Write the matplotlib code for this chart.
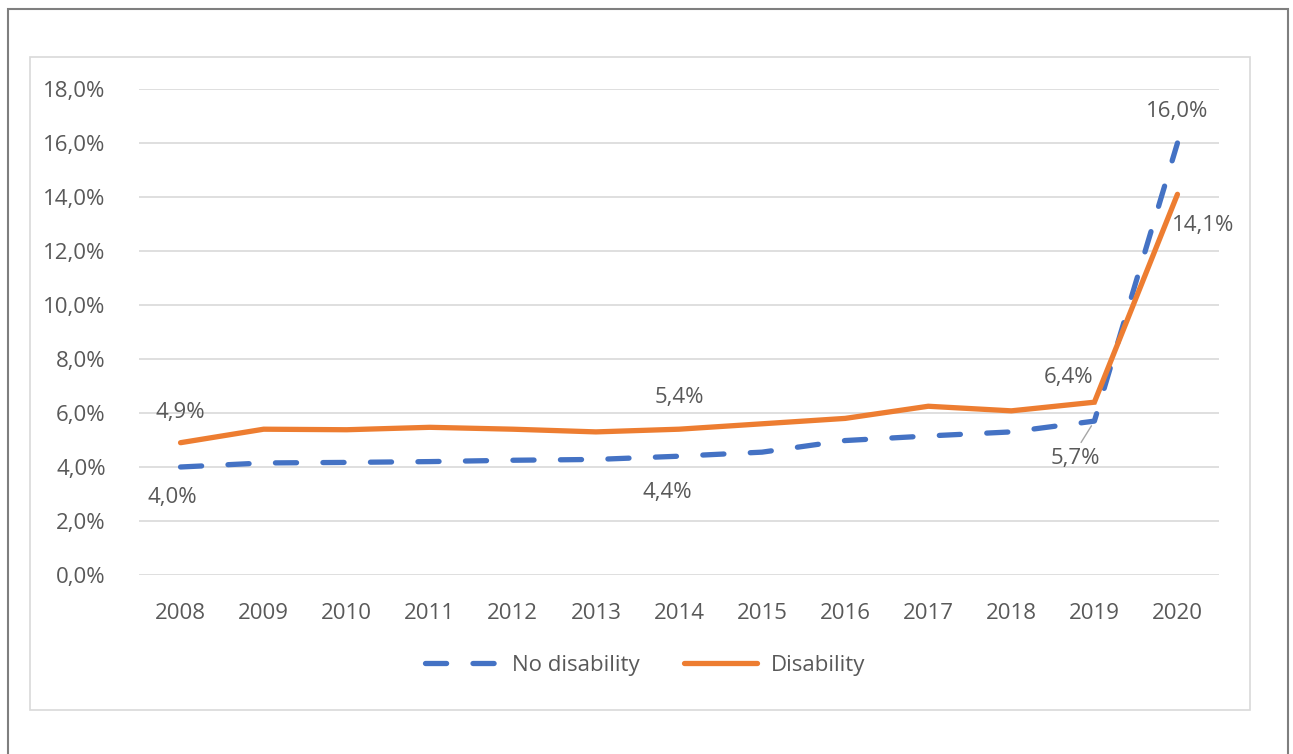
import matplotlib.pyplot as plt
from matplotlib.patches import Rectangle
from matplotlib.lines import Line2D

years = ['2008', '2009', '2010', '2011', '2012', '2013', '2014',
         '2015', '2016', '2017', '2018', '2019', '2020']
no_disability = [4.0, 4.15, 4.17, 4.2, 4.25, 4.28, 4.4, 4.55, 4.98, 5.15, 5.3, 5.7, 16.0]
disability = [4.9, 5.4, 5.38, 5.47, 5.4, 5.3, 5.4, 5.6, 5.8, 6.25, 6.08, 6.4, 14.1]
yticks = [0, 2, 4, 6, 8, 10, 12, 14, 16, 18]

BLUE = '#4472C4'
ORANGE = '#ED7D31'
TXT = '#595959'
W, H = 1293, 754
DASH = (4.0, 5.0)

plt.rcParams['font.family'] = ['Open Sans', 'DejaVu Sans']

fig = plt.figure(figsize=(W / 100, H / 100), dpi=100)

# frames around the chart
fig.add_artist(Rectangle((8 / W, -0.05), 1280 / W, (H - 9) / H + 0.05, transform=fig.transFigure,
                         fill=False, edgecolor='#7F7F7F', lw=1.5))
fig.add_artist(Rectangle((30 / W, (H - 710) / H), 1220 / W, 653 / H, transform=fig.transFigure,
                         fill=False, edgecolor='#D9D9D9', lw=1.2))

ax = fig.add_axes([139 / W, (H - 575) / H, 1080 / W, 486 / H])
x = list(range(len(years)))

ax.plot(x, no_disability, color=BLUE, lw=3.8, dashes=DASH, dash_capstyle='round',
        label='No disability', zorder=3)
ax.plot(x, disability, color=ORANGE, lw=3.8, solid_capstyle='round', solid_joinstyle='miter',
        label='Disability', zorder=4)

ax.set_xlim(-0.5, len(years) - 0.5)
ax.set_ylim(0, 18)
ax.set_yticks(yticks)
ax.set_yticklabels([f'{v:.1f}%'.replace('.', ',') for v in yticks])
ax.set_xticks(x)
ax.set_xticklabels(years)
ax.tick_params(length=0, labelsize=16, labelcolor=TXT)
ax.tick_params(axis='y', pad=24)
ax.tick_params(axis='x', pad=20)
ax.grid(axis='y', color='#D9D9D9', lw=1.2)
ax.set_axisbelow(True)
for s in ax.spines.values():
    s.set_visible(False)


def lbl(i, vals, dx, dy, **kw):
    txt = f'{vals[i]:.1f}%'.replace('.', ',')
    ax.annotate(txt, (x[i], vals[i]), xytext=(dx, dy), textcoords='offset pixels',
                ha='center', va='center', fontsize=16, color=TXT, **kw)


lbl(0, disability, 0, 30)
lbl(0, no_disability, -8, -30)
lbl(6, disability, 0, 32)
lbl(6, no_disability, -12, -36)
lbl(11, disability, -26, 25)
lbl(11, no_disability, -19, -37,
    arrowprops=dict(arrowstyle='-', color='#A6A6A6', lw=1, shrinkA=2, shrinkB=4,
                    relpos=(0.55, 1.0)))
lbl(12, no_disability, 0, 32)
lbl(12, disability, 26, -31)

handles = [Line2D([], [], color=BLUE, lw=3.8, dashes=DASH, dash_capstyle='round'),
           Line2D([], [], color=ORANGE, lw=3.8, solid_capstyle='round')]
leg = fig.legend(handles, ['No disability', 'Disability'], loc='center',
                 bbox_to_anchor=(645 / W, (H - 665) / H), ncol=2, frameon=False,
                 fontsize=16, handlelength=3.3, columnspacing=2.0, handletextpad=0.6)
for t in leg.get_texts():
    t.set_color(TXT)

fig.savefig('out.png', dpi=100)
